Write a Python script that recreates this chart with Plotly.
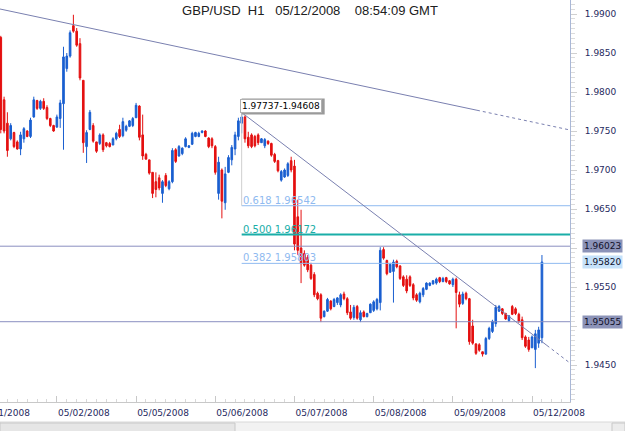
import plotly.graph_objects as go

# ---------------- data ----------------
FIRST_BAR = 7  # hourly bar index of first visible candle (05/01/2008 00:00 = 0)

OPEN = [
    1.9870, 1.9790, 1.9760, 1.9740, 1.9748, 1.9736, 1.9727, 1.9740, 1.9750, 1.9743,
    1.9768, 1.9789, 1.9779, 1.9788, 1.9780, 1.9766, 1.9757, 1.9755, 1.9766, 1.9785,
    1.9830, 1.9846, 1.9885, 1.9878, 1.9862, 1.9815, 1.9730, 1.9752, 1.9757, 1.9736,
    1.9734, 1.9745, 1.9735, 1.9734, 1.9732, 1.9740, 1.9752, 1.9744, 1.9751, 1.9756,
    1.9757, 1.9767, 1.9782, 1.9745, 1.9720, 1.9713, 1.9697, 1.9685, 1.9690, 1.9670,
    1.9693, 1.9676, 1.9685, 1.9726, 1.9718, 1.9721, 1.9730, 1.9729, 1.9733, 1.9743,
    1.9743, 1.9748, 1.9750, 1.9741, 1.9740, 1.9730, 1.9670, 1.9700, 1.9658, 1.9697,
    1.9713, 1.9727, 1.9743, 1.9760, 1.9768, 1.9742, 1.9745, 1.9743, 1.9745, 1.9735,
    1.9731, 1.9737, 1.9734, 1.9720, 1.9712, 1.9687, 1.9691, 1.9693, 1.9712, 1.9705,
    1.9640, 1.9600, 1.9593, 1.9588, 1.9578, 1.9566, 1.9542, 1.9540, 1.9512, 1.9519,
    1.9532, 1.9525, 1.9530, 1.9527, 1.9541, 1.9535, 1.9518, 1.9511, 1.9525, 1.9508,
    1.9518, 1.9512, 1.9517, 1.9520, 1.9522, 1.9530, 1.9598, 1.9584, 1.9569, 1.9570,
    1.9583, 1.9577, 1.9563, 1.9560, 1.9563, 1.9553, 1.9540, 1.9531, 1.9540, 1.9547,
    1.9552, 1.9554, 1.9555, 1.9562, 1.9557, 1.9562, 1.9558, 1.9553, 1.9560, 1.9540,
    1.9529, 1.9542, 1.9535, 1.9500, 1.9477, 1.9476, 1.9467, 1.9464, 1.9484, 1.9493,
    1.9503, 1.9519, 1.9522, 1.9516, 1.9507, 1.9525, 1.9522, 1.9515, 1.9508, 1.9486,
    1.9482, 1.9472, 1.9470, 1.9478, 1.9485,
]
HIGH = [
    1.9872, 1.9794, 1.9774, 1.9760, 1.9749, 1.9738, 1.9749, 1.9755, 1.9751, 1.9767,
    1.9794, 1.9790, 1.9790, 1.9792, 1.9783, 1.9767, 1.9758, 1.9771, 1.9790, 1.9858,
    1.9850, 1.9879, 1.9899, 1.9882, 1.9869, 1.9815, 1.9751, 1.9777, 1.9760, 1.9736,
    1.9747, 1.9747, 1.9736, 1.9736, 1.9742, 1.9749, 1.9758, 1.9767, 1.9758, 1.9764,
    1.9768, 1.9786, 1.9783, 1.9771, 1.9722, 1.9713, 1.9697, 1.9697, 1.9694, 1.9687,
    1.9696, 1.9687, 1.9728, 1.9728, 1.9732, 1.9729, 1.9742, 1.9732, 1.9749, 1.9749,
    1.9749, 1.9751, 1.9751, 1.9742, 1.9742, 1.9732, 1.9717, 1.9702, 1.9704, 1.9719,
    1.9732, 1.9749, 1.9767, 1.97737, 1.9770, 1.9749, 1.9747, 1.9745, 1.9747, 1.9741,
    1.9741, 1.9738, 1.9735, 1.9722, 1.9713, 1.9700, 1.9702, 1.9710, 1.9717, 1.9713,
    1.9662, 1.9649, 1.9597, 1.9591, 1.9581, 1.9569, 1.9544, 1.9542, 1.9520, 1.9536,
    1.9533, 1.9536, 1.9537, 1.9542, 1.9544, 1.9537, 1.9527, 1.9527, 1.9527, 1.9520,
    1.9520, 1.9517, 1.9529, 1.9533, 1.9536, 1.9601, 1.9601, 1.9585, 1.9581, 1.9585,
    1.9585, 1.9578, 1.9565, 1.9565, 1.9565, 1.9555, 1.9542, 1.9544, 1.9550, 1.9556,
    1.9556, 1.9559, 1.9562, 1.9563, 1.9563, 1.9563, 1.9559, 1.9562, 1.9562, 1.9544,
    1.9544, 1.9544, 1.9536, 1.9508, 1.9478, 1.9478, 1.9467, 1.9486, 1.9499, 1.9508,
    1.9527, 1.9527, 1.9523, 1.9517, 1.9514, 1.9527, 1.9524, 1.9517, 1.9512, 1.9488,
    1.9486, 1.9488, 1.9495, 1.9499, 1.9591,
]
LOW = [
    1.9747, 1.9747, 1.9717, 1.9738, 1.9728, 1.9726, 1.9719, 1.9735, 1.9742, 1.9741,
    1.9767, 1.9777, 1.9777, 1.9777, 1.9764, 1.9755, 1.9749, 1.9754, 1.9754, 1.9726,
    1.9826, 1.9844, 1.9876, 1.9858, 1.9815, 1.9722, 1.9709, 1.9751, 1.9735, 1.9722,
    1.9732, 1.9723, 1.9729, 1.9729, 1.9732, 1.9738, 1.9741, 1.9742, 1.9749, 1.9755,
    1.9755, 1.9767, 1.9738, 1.9713, 1.9713, 1.9694, 1.9664, 1.9665, 1.9674, 1.9658,
    1.9678, 1.9674, 1.9683, 1.9709, 1.9717, 1.9719, 1.9729, 1.9728, 1.9732, 1.9742,
    1.9742, 1.9747, 1.9742, 1.9728, 1.9728, 1.9694, 1.9662, 1.9638, 1.9649, 1.9696,
    1.9706, 1.9719, 1.9738, 1.9747, 1.9735, 1.9728, 1.9728, 1.9729, 1.9732, 1.9735,
    1.9728, 1.9732, 1.9717, 1.9709, 1.9697, 1.9685, 1.9690, 1.9691, 1.9697, 1.9597,
    1.9591, 1.9555, 1.9576, 1.9569, 1.9559, 1.9537, 1.9533, 1.9505, 1.9511, 1.9518,
    1.9520, 1.9524, 1.9527, 1.9524, 1.9533, 1.9514, 1.9508, 1.9508, 1.9508, 1.9505,
    1.9511, 1.9511, 1.9517, 1.9518, 1.9520, 1.9520, 1.9585, 1.9565, 1.9568, 1.9530,
    1.9574, 1.9559, 1.9550, 1.9542, 1.9550, 1.9533, 1.9531, 1.9529, 1.9537, 1.9546,
    1.9551, 1.9553, 1.9553, 1.9555, 1.9556, 1.9555, 1.9553, 1.9550, 1.9497, 1.9524,
    1.9527, 1.9533, 1.9476, 1.9476, 1.9463, 1.9467, 1.94608, 1.9463, 1.9482, 1.9491,
    1.9499, 1.9518, 1.9514, 1.9508, 1.9505, 1.9514, 1.9514, 1.9504, 1.9482, 1.9472,
    1.9467, 1.9472, 1.9446, 1.9472, 1.9478,
]
CLOSE = [
    1.9752, 1.9750, 1.9725, 1.9757, 1.9730, 1.9727, 1.9745, 1.9753, 1.9743, 1.9764,
    1.9790, 1.9779, 1.9788, 1.9779, 1.9766, 1.9757, 1.9750, 1.9768, 1.9786, 1.9845,
    1.9846, 1.9876, 1.9878, 1.9860, 1.9818, 1.9735, 1.9748, 1.9774, 1.9737, 1.9724,
    1.9745, 1.9726, 1.9731, 1.9730, 1.9740, 1.9747, 1.9743, 1.9762, 1.9756, 1.9763,
    1.9766, 1.9783, 1.9742, 1.9718, 1.9714, 1.9696, 1.9670, 1.9675, 1.9677, 1.9685,
    1.9680, 1.9685, 1.9725, 1.9711, 1.9730, 1.9728, 1.9740, 1.9731, 1.9747, 1.9748,
    1.9747, 1.9750, 1.9743, 1.9730, 1.9731, 1.9697, 1.9710, 1.9660, 1.9695, 1.9716,
    1.9729, 1.9745, 1.9763, 1.9768, 1.9740, 1.9731, 1.9730, 1.9731, 1.9735, 1.9740,
    1.9739, 1.9734, 1.9719, 1.9711, 1.9699, 1.9698, 1.9700, 1.9708, 1.9700, 1.9605,
    1.9597, 1.9580, 1.9578, 1.9572, 1.9561, 1.9540, 1.9535, 1.9510, 1.9519, 1.9534,
    1.9522, 1.9534, 1.9536, 1.9540, 1.9535, 1.9517, 1.9510, 1.9524, 1.9510, 1.9517,
    1.9512, 1.9516, 1.9528, 1.9531, 1.9534, 1.9597, 1.9587, 1.9567, 1.9579, 1.9582,
    1.9576, 1.9561, 1.9552, 1.9545, 1.9552, 1.9536, 1.9533, 1.9542, 1.9548, 1.9555,
    1.9555, 1.9558, 1.9560, 1.9557, 1.9561, 1.9557, 1.9554, 1.9560, 1.9543, 1.9528,
    1.9541, 1.9535, 1.9480, 1.9478, 1.9465, 1.9469, 1.9464, 1.9484, 1.9497, 1.9506,
    1.9524, 1.9525, 1.9516, 1.9509, 1.9513, 1.9515, 1.9516, 1.9506, 1.9485, 1.9474,
    1.9470, 1.9486, 1.9490, 1.9495, 1.95820,
]
BAR_X = list(range(FIRST_BAR, FIRST_BAR + len(OPEN)))

DAY_START = [0, 24, 48, 72, 96, 120, 144, 168]
DAY_LABELS = ["05/01/2008", "05/02/2008", "05/05/2008", "05/06/2008",
              "05/07/2008", "05/08/2008", "05/09/2008", "05/12/2008"]

Y_TICKS = [1.9450, 1.9500, 1.9550, 1.9600, 1.9650, 1.9700, 1.9750, 1.9800, 1.9850, 1.9900]

X_RANGE = [6.76, 179.5]
Y_RANGE = [1.940256, 1.991795]

TREND1_X = [6.76, 179.5]
TREND1_Y = [1.99064, 1.97513]
TREND1_DASH_FROM = 151.3
TREND2_X = [80.0, 179.5]
TREND2_Y = [1.97737, 1.94525]
TREND2_DASH_FROM = 172.5

FIB_X = 80
FIB_HIGH = 1.97737
FIB_LOW = 1.94608
FIB_LEVELS = [0.618, 0.500, 0.382]
FIB_PRICES = [1.96542, 1.96172, 1.95803]
FIB_COLORS = ["#8fbaf0", "#1aaea8", "#8fbaf0"]

HLINE_PRICES = [1.96023, 1.95055]
BID = 1.95820

TITLE = "GBP/USD  H1   05/12/2008    08:54:09 GMT"

# ---------------- figure ----------------
BLUE = "#1a5fd0"
RED = "#e41010"
TRENDC = "#7a80b0"
LABEL_FONT = dict(family="DejaVu Sans", size=9, color="#1f2a60")

fig = go.Figure()

fig.add_trace(go.Candlestick(
    x=BAR_X, open=OPEN, high=HIGH, low=LOW, close=CLOSE,
    increasing=dict(line=dict(color=BLUE, width=1), fillcolor=BLUE),
    decreasing=dict(line=dict(color=RED, width=1), fillcolor=RED),
    whiskerwidth=0, hoverinfo="skip", showlegend=False,
))


def interp(xs, ys, x):
    return ys[0] + (ys[1] - ys[0]) * (x - xs[0]) / (xs[1] - xs[0])


def line(x, y, color, width=1, dash="solid"):
    fig.add_trace(go.Scatter(x=x, y=y, mode="lines", hoverinfo="skip", showlegend=False,
                             line=dict(color=color, width=width, dash=dash)))


# horizontal levels
for p in HLINE_PRICES:
    line(X_RANGE, [p, p], "#8a8fc0")

# fib levels
for p, c, lv in zip(FIB_PRICES, FIB_COLORS, FIB_LEVELS):
    line([FIB_X, X_RANGE[1]], [p, p], c, width=2 if lv == 0.5 else 1)
# fib vertical
line([FIB_X, FIB_X], [FIB_HIGH, FIB_PRICES[0]], "#cfcfcf")

# trend lines (solid then dashed)
for xs, ys, dfrom in [(TREND1_X, TREND1_Y, TREND1_DASH_FROM), (TREND2_X, TREND2_Y, TREND2_DASH_FROM)]:
    ym = interp(xs, ys, dfrom)
    line([xs[0], dfrom], [ys[0], ym], TRENDC)
    line([dfrom, xs[1]], [ym, ys[1]], TRENDC, dash="3px,3px")

ann = []
# fib labels
for p, c, lv in zip(FIB_PRICES, FIB_COLORS, FIB_LEVELS):
    ann.append(dict(x=FIB_X, y=p, xref="x", yref="y", text=f"{lv:.3f} {p:.5f}",
                    showarrow=False, xanchor="left", yanchor="bottom", xshift=-1, yshift=-2,
                    font=dict(family="DejaVu Sans", size=10, color=c)))
# range label box (shadow drawn as a pixel-sized shape)
rng_text = f"{FIB_HIGH:.5f}-{FIB_LOW:.5f}"
ann.append(dict(x=FIB_X, y=FIB_HIGH, xref="x", yref="y", text=rng_text, showarrow=False,
                xanchor="left", yanchor="middle", xshift=-2, yshift=7,
                font=dict(family="DejaVu Sans", size=9, color="#000000"),
                bgcolor="#ffffff", bordercolor="#b0b0b0", borderwidth=1, borderpad=1))

# right-axis price boxes
box_prices = [HLINE_PRICES[0], BID, HLINE_PRICES[1]]
for p, bg in zip(box_prices, ["#8c93b8", "#c6e2fa", "#8c93b8"]):
    ann.append(dict(x=1, y=p, xref="paper", yref="y", text=f"{p:.5f}", showarrow=False,
                    xanchor="left", yanchor="middle", xshift=12,
                    font=dict(family="DejaVu Sans", size=9, color="#10102a"),
                    bgcolor=bg, borderpad=1))

# first (partially visible) date label
x_paper0 = (DAY_START[0] - X_RANGE[0]) / (X_RANGE[1] - X_RANGE[0])
ann.append(dict(x=x_paper0, y=0, xref="paper", yref="paper", text=DAY_LABELS[0],
                showarrow=False, xanchor="left", yanchor="top", xshift=-2, yshift=-4,
                font=LABEL_FONT))

# tick texts hidden behind the price boxes are left blank
y_ticktext = ["" if any(abs(v - b) < 0.0009 for b in box_prices) else f"{v:.4f}" for v in Y_TICKS]

fig.update_layout(
    width=625, height=431,
    margin=dict(l=0, r=55, t=0, b=29),
    paper_bgcolor="white", plot_bgcolor="white",
    showlegend=False,
    title=dict(text=TITLE.replace(" ", "\u00a0"), x=310 / 625, y=1 - 10 / 431,
               xanchor="center", yanchor="middle", xref="container", yref="container",
               font=dict(family="Liberation Sans", size=13, color="#202020")),
    xaxis=dict(range=X_RANGE, rangeslider=dict(visible=False), showgrid=False, zeroline=False,
               showline=True, linecolor="#c8c8c8", linewidth=1,
               ticks="inside", ticklen=6, tickcolor="#c8c8c8",
               tickmode="array", tickvals=DAY_START, ticktext=DAY_LABELS,
               ticklabelshift=27, ticklabelstandoff=2, tickfont=LABEL_FONT,
               minor=dict(ticks="inside", ticklen=3, tickmode="linear", tick0=0, dtick=3,
                          tickcolor="#d8d8d8", showgrid=False)),
    yaxis=dict(side="right", range=Y_RANGE, showgrid=False, zeroline=False,
               showline=True, linecolor="#a9b7d6", linewidth=1,
               ticks="outside", ticklen=6, tickcolor="#d0d0d0",
               tickmode="array", tickvals=Y_TICKS, ticktext=y_ticktext,
               tickfont=LABEL_FONT, ticklabelstandoff=6,
               minor=dict(ticks="outside", ticklen=4, tickmode="linear", tick0=1.94,
                          dtick=0.000625, tickcolor="#dcdcdc", showgrid=False)),
    annotations=ann,
    shapes=[
        # shadow of the range label box
        dict(type="rect", xref="x", yref="y", xsizemode="pixel", ysizemode="pixel",
             xanchor=FIB_X, yanchor=FIB_HIGH, x0=0, x1=83, y0=-2, y1=14,
             fillcolor="#9a9a9a", line=dict(width=0), layer="above"),
        dict(type="rect", xref="paper", yref="paper", x0=0, x1=625 / 570,
             y0=(402 - 422) / 402, y1=(402 - 432) / 402,
             fillcolor="#f2f2f2", line=dict(color="#d8d8d8", width=1), layer="above"),
        dict(type="rect", xref="paper", yref="paper", x0=0, x1=235 / 570,
             y0=(402 - 423) / 402, y1=(402 - 432) / 402,
             fillcolor="#e6e6e6", line=dict(color="#c8c8c8", width=1), layer="above"),
        dict(type="rect", xref="paper", yref="paper", x0=612 / 570, x1=625 / 570,
             y0=(402 - 423) / 402, y1=(402 - 432) / 402,
             fillcolor="#ececec", line=dict(color="#c8c8c8", width=1), layer="above"),
    ],
)

fig.write_html("out.html")
